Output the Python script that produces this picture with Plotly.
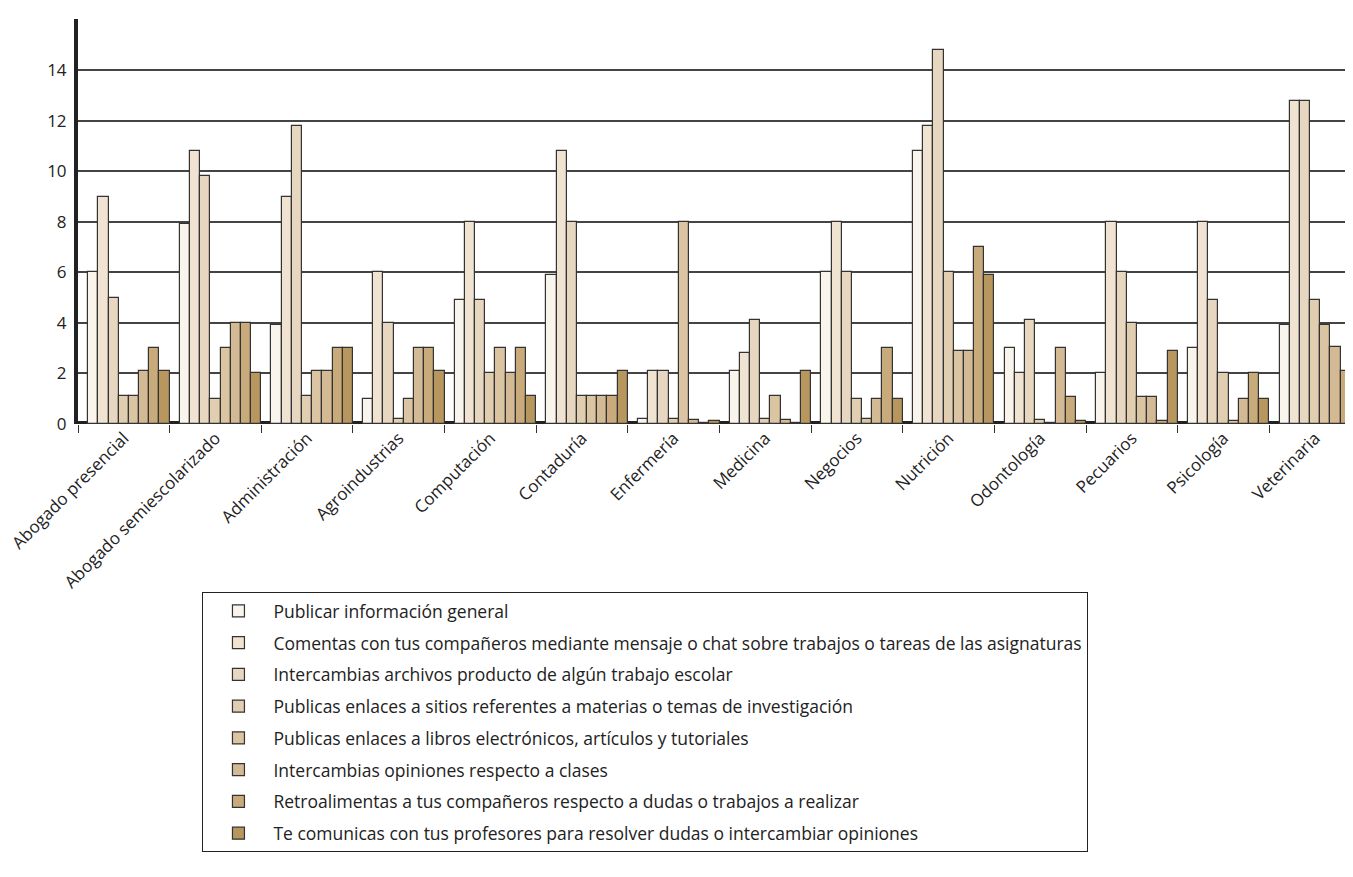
import plotly.graph_objects as go

# Carreras (categorías)
carreras = ["Abogado presencial", "Abogado semiescolarizado", "Administración", "Agroindustrias",
            "Computación", "Contaduría", "Enfermería", "Medicina", "Negocios", "Nutrición",
            "Odontología", "Pecuarios", "Psicología", "Veterinaria"]

# Nombres de las series
series = [
    "Publicar información general",
    "Comentas con tus compañeros mediante mensaje o chat sobre trabajos o tareas de las asignaturas",
    "Intercambias archivos producto de algún trabajo escolar",
    "Publicas enlaces a sitios referentes a materias o temas de investigación",
    "Publicas enlaces a libros electrónicos, artículos y tutoriales",
    "Intercambias opiniones respecto a clases",
    "Retroalimentas a tus compañeros respecto a dudas o trabajos a realizar",
    "Te comunicas con tus profesores para resolver dudas o intercambiar opiniones",
]

publicar_info = [6, 7.9, 3.9, 1, 4.9, 5.9, 0.2, 2.1, 6, 10.8, 3, 2, 3, 3.9]
comentas_chat = [9, 10.8, 9, 6, 8, 10.8, 2.1, 2.8, 8, 11.8, 2, 8, 8, 12.8]
intercambia_archivos = [5, 9.8, 11.8, 4, 4.9, 8, 2.1, 4.1, 6, 14.8, 4.1, 6, 4.9, 12.8]
enlaces_sitios = [1.1, 1, 1.1, 0.2, 2, 1.1, 0.2, 0.2, 1, 6, 0.15, 4, 2, 4.9]
enlaces_libros = [1.1, 3, 2.1, 1, 3, 1.1, 8, 1.1, 0.2, 2.9, 0.05, 1.05, 0.1, 3.9]
opiniones_clases = [2.1, 4, 2.1, 3, 2, 1.1, 0.15, 0.15, 1, 2.9, 3, 1.05, 1, 3.05]
retroalimentas = [3, 4, 3, 3, 3, 1.1, 0.05, 0.05, 3, 7, 1.05, 0.1, 2, 2.1]
profesores = [2.1, 2, 3, 2.1, 1.1, 2.1, 0.1, 2.1, 1, 5.9, 0.1, 2.9, 1, 0.1]
separador = [0.1] * 14

valores = [publicar_info, comentas_chat, intercambia_archivos, enlaces_sitios,
           enlaces_libros, opiniones_clases, retroalimentas, profesores]
colores = ["#faf5ec", "#f0e3d1", "#e8d7c0", "#e1cdb0", "#dbc4a2", "#d4ba94", "#c9aa7b", "#b8975e"]

fig = go.Figure()
# barra oscura entre grupos
fig.add_trace(go.Bar(x=carreras, y=separador, marker_color="#222222",
                     marker_line_width=0, showlegend=False, hoverinfo="skip"))
for i, (nombre, vals, color) in enumerate(zip(series, valores, colores)):
    fig.add_trace(go.Bar(x=carreras, y=vals, name=nombre, marker_color=color,
                         legendgroup=f"g{i}",
                         marker_line=dict(color="#333333", width=1.2)))

fig.update_layout(
    width=1353, height=877,
    margin=dict(l=70, r=0, t=11, b=461),
    plot_bgcolor="white", paper_bgcolor="white",
    font=dict(family="Open Sans, Liberation Sans, sans-serif", size=17, color="#222222"),
    barmode="group", bargap=0, bargroupgap=0,
    legend=dict(x=0.097, y=-0.415, xanchor="left", yanchor="top",
                bordercolor="#222222", borderwidth=1, font=dict(size=17.5),
                traceorder="grouped", tracegroupgap=6, itemwidth=60),
)
fig.update_xaxes(tickangle=-45, ticks="outside", tickson="boundaries", ticklen=8,
                 tickcolor="#333333", showline=False)
fig.update_yaxes(range=[0, 16.03], tickvals=[0, 2, 4, 6, 8, 10, 12, 14, 16],
                 gridcolor="#444444", gridwidth=1.5,
                 showline=True, linecolor="#222222", linewidth=4, zeroline=False,
                 ticks="", ticklabelstandoff=4)

fig.write_html("out.html")
